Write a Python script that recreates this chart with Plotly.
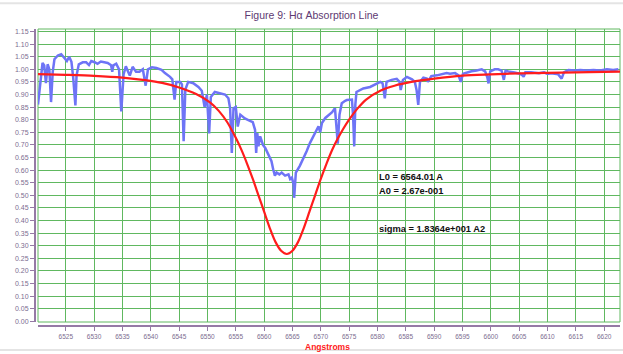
import plotly.graph_objects as go

# Observed spectrum around H-alpha (wavelength in Angstroms, normalised flux)
spec_wl = [6520.1, 6520.5, 6520.7, 6520.9, 6521.2, 6521.5, 6521.8, 6522.1, 6522.4, 6522.7,
           6523.0, 6523.6, 6524.2, 6524.8, 6525.2, 6525.6, 6526.0, 6526.3, 6526.7, 6526.9,
           6527.3, 6528.0, 6528.6, 6529.1, 6529.5, 6530.1, 6530.6, 6531.2, 6531.8, 6532.4,
           6533.0, 6533.2, 6533.4, 6533.9, 6534.4, 6534.8, 6535.2, 6535.6, 6536.0, 6536.3,
           6536.8, 6537.4, 6538.0, 6538.6, 6539.1, 6539.5, 6540.2, 6541.0, 6541.9, 6542.5,
           6543.4, 6543.8, 6544.2, 6544.5, 6545.2, 6545.5, 6545.8, 6546.1, 6546.6, 6547.5,
           6548.4, 6549.0, 6549.5, 6549.9, 6550.3, 6550.6, 6551.3, 6552.2, 6553.1, 6553.7,
           6554.0, 6554.3, 6554.6, 6555.0, 6555.35, 6555.8, 6556.6, 6557.5, 6558.0, 6558.4,
           6558.6, 6558.8, 6559.0, 6559.3, 6559.8, 6560.2, 6560.7, 6561.3, 6561.6, 6561.9,
           6562.2, 6562.7, 6563.1, 6563.7, 6564.3, 6564.6, 6564.9, 6565.2, 6565.3, 6565.5,
           6565.6, 6566.3, 6566.9, 6567.5, 6568.1, 6568.7, 6569.2, 6569.6, 6569.9, 6570.2,
           6570.8, 6571.4, 6572.0, 6572.5, 6572.8, 6573.0, 6573.3, 6573.7, 6574.3, 6574.6,
           6575.5, 6575.7, 6575.9, 6576.1, 6576.3, 6577.5, 6578.7, 6579.9, 6580.5, 6580.9,
           6581.3, 6581.6, 6582.5, 6583.4, 6583.9, 6584.1, 6584.5, 6585.2, 6586.1, 6586.6,
           6586.9, 6587.2, 6587.5, 6588.1, 6588.7, 6588.9, 6589.5, 6590.5, 6591.4, 6592.2,
           6592.8, 6593.7, 6594.3, 6594.7, 6595.1, 6595.8, 6596.6, 6597.5, 6598.4, 6599.0,
           6599.4, 6599.6, 6599.9, 6600.7, 6601.3, 6601.9, 6602.3, 6602.6, 6603.3, 6604.2,
           6605.2, 6605.6, 6605.8, 6606.1, 6607.1, 6608.5, 6609.4, 6610.0, 6610.6, 6611.3,
           6611.9, 6612.5, 6612.9, 6613.7, 6614.8, 6615.8, 6616.9, 6618.1, 6619.3, 6620.5,
           6621.6, 6622.5]
spec_flux = [0.86, 0.95, 1.00, 1.025, 1.015, 0.945, 1.02, 1.00, 0.87, 0.99,
             1.04, 1.055, 1.06, 1.045, 1.033, 1.05, 1.03, 0.97, 0.857, 0.975,
             1.02, 1.028, 1.028, 1.017, 1.033, 1.028, 1.022, 1.031, 1.027, 1.025,
             1.016, 0.99, 1.016, 1.022, 1.0, 0.833, 0.98, 1.012, 0.99, 0.975,
             1.01, 0.99, 0.99, 1.0, 0.935, 1.0, 1.008, 1.005, 0.998, 0.985,
             0.97, 0.96, 0.88, 0.95, 0.95, 0.94, 0.715, 0.92, 0.95, 0.945,
             0.93, 0.915, 0.85, 0.9, 0.745, 0.89, 0.91, 0.905, 0.9, 0.885,
             0.845, 0.668, 0.845, 0.85, 0.773, 0.82, 0.805, 0.795, 0.79, 0.76,
             0.668, 0.747, 0.694, 0.734, 0.70, 0.688, 0.662, 0.635, 0.603, 0.578,
             0.59, 0.583, 0.59, 0.578, 0.583, 0.564, 0.57, 0.543, 0.49, 0.55,
             0.59, 0.617, 0.643, 0.675, 0.708, 0.734, 0.76, 0.774, 0.75, 0.787,
             0.807, 0.82, 0.83, 0.846, 0.775, 0.705, 0.82, 0.865, 0.875, 0.878,
             0.88, 0.815, 0.694, 0.86, 0.91, 0.924, 0.93, 0.944, 0.95, 0.945,
             0.885, 0.95, 0.958, 0.962, 0.95, 0.918, 0.958, 0.97, 0.96, 0.95,
             0.918, 0.859, 0.95, 0.967, 0.963, 0.95, 0.973, 0.976, 0.98, 0.985,
             0.982, 0.985, 0.976, 0.95, 0.982, 0.988, 0.992, 0.995, 1.0, 0.992,
             0.967, 0.944, 0.992, 1.0, 1.0, 0.995, 0.958, 0.995, 0.99, 0.987,
             0.982, 0.976, 0.97, 0.988, 0.988, 0.984, 0.988, 0.982, 0.984, 0.982,
             0.98, 0.963, 0.988, 0.997, 0.995, 0.997, 0.995, 0.997, 0.995, 1.0,
             0.997, 1.0]

# Fitted absorption profile
fit_wl = [6520.1, 6525, 6530, 6535, 6539, 6542, 6545, 6548, 6550.5, 6552,
          6553.5, 6555, 6556, 6557, 6558, 6559, 6560, 6561, 6562, 6563,
          6564.01, 6565, 6566, 6567, 6568, 6569, 6570, 6571, 6572, 6573,
          6574, 6575, 6576.5, 6578, 6580.5, 6583, 6586, 6590, 6595, 6600,
          6605, 6610, 6615, 6620, 6622.8]
fit_flux = [0.981, 0.978, 0.974, 0.967, 0.957, 0.946, 0.928, 0.902, 0.868, 0.835,
            0.79, 0.728, 0.68, 0.625, 0.565, 0.50, 0.435, 0.37, 0.315, 0.28,
            0.267, 0.28, 0.315, 0.37, 0.435, 0.50, 0.565, 0.625, 0.68, 0.725,
            0.765, 0.80, 0.845, 0.88, 0.915, 0.935, 0.95, 0.963, 0.975, 0.98,
            0.984, 0.986, 0.988, 0.99, 0.991]

# Fit parameters shown on the chart
fit_labels = ["L0 = 6564.01 A", "A0 = 2.67e-001", "sigma = 1.8364e+001 A2"]
fit_label_y = [0.573, 0.518, 0.368]

x_ticks = list(range(6525, 6621, 5))
y_ticks = [round(i * 0.05, 2) for i in range(24)]

X_RANGE = [6520.1, 6622.8]
Y_RANGE = [-0.003, 1.16]

GRID = "rgb(96,184,96)"
AXIS = "#957aa5"
TICKFONT = "#7c6d90"
FONT = "Liberation Sans, Arial, sans-serif"

fig = go.Figure()

fig.add_trace(go.Scatter(x=spec_wl, y=spec_flux, mode="lines",
                         line=dict(color="#6e74f6", width=2.5),
                         hoverinfo="skip", showlegend=False))
fig.add_trace(go.Scatter(x=fit_wl, y=fit_flux, mode="lines",
                         line=dict(color="#ff1c1c", width=2.2, shape="spline", smoothing=0.8),
                         hoverinfo="skip", showlegend=False))

for txt, yv in zip(fit_labels, fit_label_y):
    fig.add_annotation(x=6579.9, y=yv, xref="x", yref="y", text="<b>" + txt + "</b>",
                       showarrow=False, xanchor="left", yanchor="middle",
                       font=dict(family=FONT, size=9.3, color="#111111"))

# plot frame
fig.add_shape(type="rect", xref="x domain", yref="y domain", x0=0, x1=1, y0=0, y1=1,
              line=dict(color=GRID, width=1), layer="below")

# faint page rules above and below the chart
for yp in (1.087, -0.081):
    fig.add_shape(type="line", xref="paper", yref="paper", x0=-0.06, x1=1.006, y0=yp, y1=yp,
                  line=dict(color="#e4e4e4", width=2))

fig.add_annotation(x=0.5, y=-0.071, xref="paper", yref="paper", text="<b>Angstroms</b>",
                   showarrow=False, xanchor="center", yanchor="middle",
                   font=dict(family=FONT, size=8.5, color="#ff2020"))

fig.update_layout(
    width=623, height=354,
    margin=dict(l=35, r=3, t=29, b=28),
    paper_bgcolor="white", plot_bgcolor="white",
    title=dict(text="Figure 9: H\u03b1 Absorption Line", x=0.5, xanchor="center",
               y=1 - 15 / 354, yanchor="middle",
               font=dict(family=FONT, size=10.5, color="#5e3a72")),
    xaxis=dict(domain=[3 / 585, 1], range=X_RANGE, anchor="free", position=0,
               tickvals=x_ticks, ticktext=[str(v) for v in x_ticks],
               showgrid=True, gridcolor=GRID, gridwidth=1, zeroline=False,
               showline=True, linecolor=AXIS, linewidth=2,
               ticks="outside", ticklen=4, tickcolor=AXIS, tickwidth=1,
               tickfont=dict(family=FONT, size=6.5, color=TICKFONT)),
    yaxis=dict(domain=[4 / 297, 1], range=Y_RANGE, anchor="free", position=0,
               tickvals=y_ticks, ticktext=["%.2f" % v for v in y_ticks],
               showgrid=True, gridcolor=GRID, gridwidth=1, zeroline=False,
               showline=True, linecolor=AXIS, linewidth=2,
               ticks="outside", ticklen=4, tickcolor=AXIS, tickwidth=1,
               tickfont=dict(family=FONT, size=7, color=TICKFONT)),
)

fig.write_html("out.html")
